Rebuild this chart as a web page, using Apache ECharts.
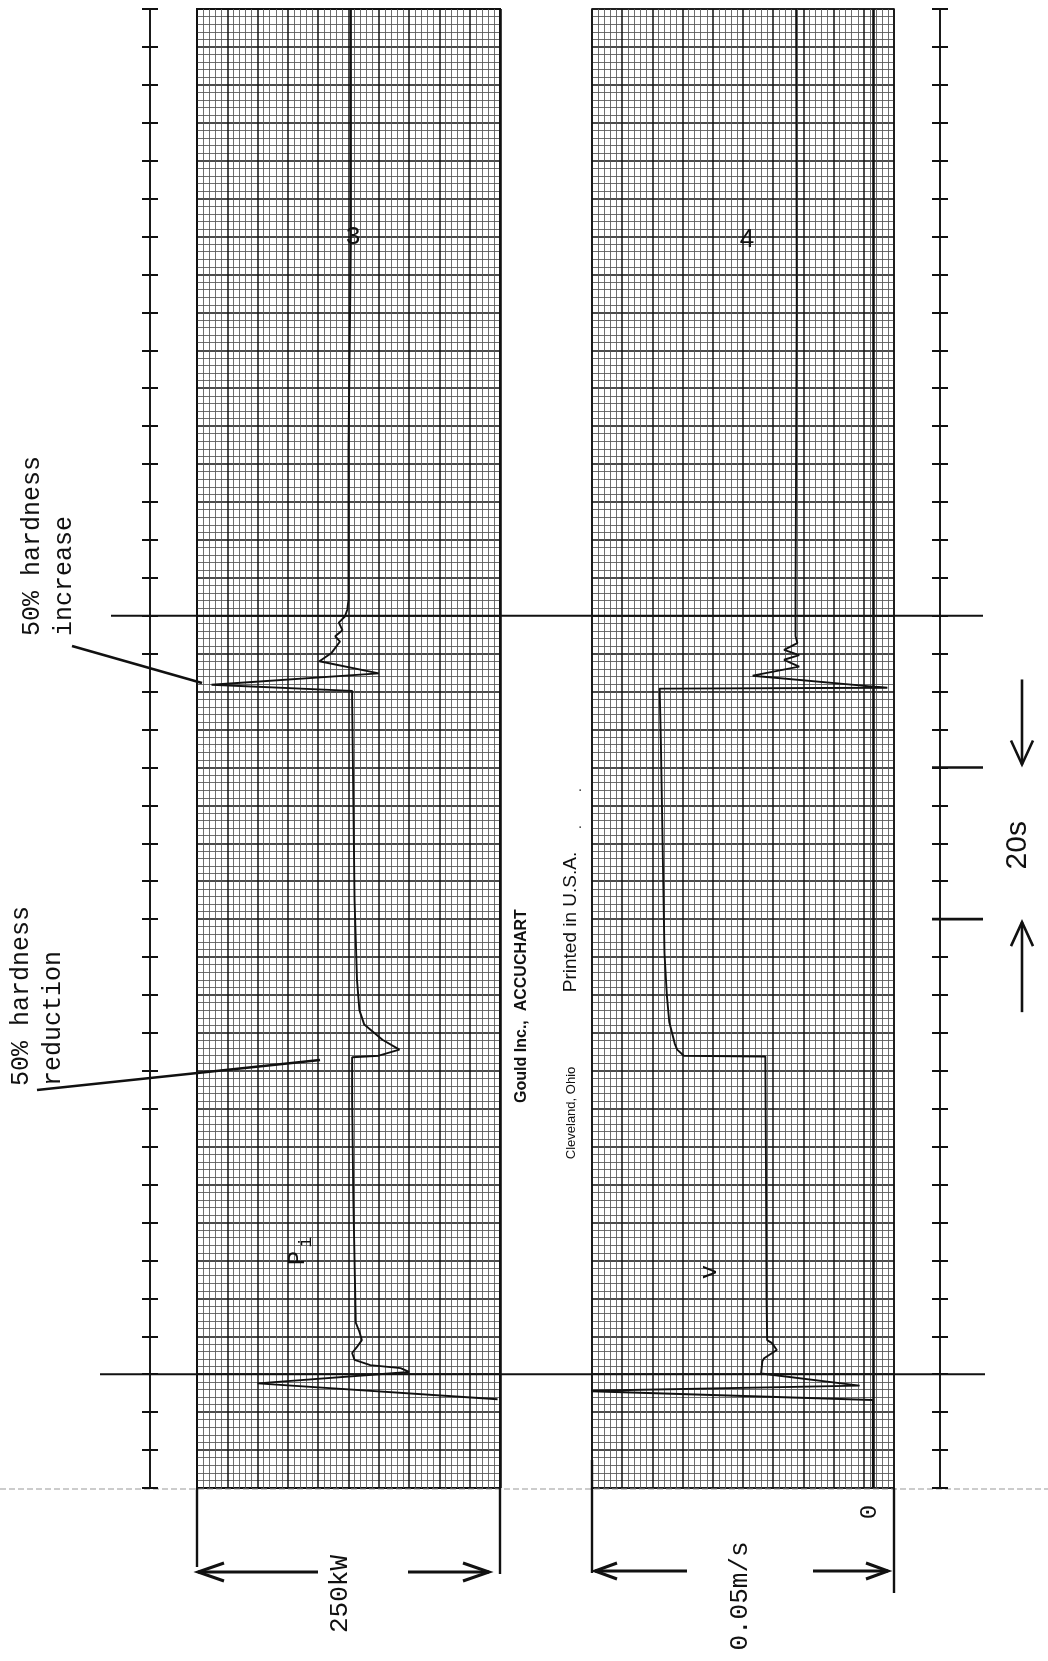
<!DOCTYPE html>
<html><head><meta charset="utf-8">
<script src="https://cdn.jsdelivr.net/npm/echarts/dist/echarts.min.js"></script>
<style>html,body{margin:0;padding:0;background:#fff}#c{width:1048px;height:1661px}</style>
</head><body><div id="c"></div>
<script>
// ---- data (time in s, increasing upward) ----
const pTime  = [11.7, 13.8, 15.3, 15.8, 16.2, 16.9, 17.8, 18.6, 19.5, 20.6, 21.8, 38.0, 51.2, 56.8, 57.0, 57.8, 59.1, 61.1, 63.0, 67.0, 77.5, 90.7, 103.9, 105.1, 105.9, 107.4, 109.0, 110.1, 111.6, 112.3, 113.1, 114.1, 114.9, 115.8, 117.1, 136.9, 165.0, 195.0];
const pPower = [2, 200, 75, 82, 107, 120, 122, 118, 114, 116, 119, 121, 122, 122, 100, 83, 97, 112, 116, 118, 120, 121, 122, 122, 238, 100, 149, 139, 132, 136, 130, 133, 128, 126, 125, 125, 123, 123];
const vTime  = [0, 11.6, 12.8, 13.5, 15.1, 16.7, 17.1, 18.2, 19.1, 19.5, 24.8, 43.3, 56.9, 57.0, 57.8, 58.6, 61.4, 64.9, 70.5, 84.4, 98.4, 105.4, 105.5, 107.1, 108.3, 109.2, 109.8, 110.5, 111.4, 112.3, 117.1, 156.7, 195.0];
const vVel   = [0, 0, 0.0484, 0.0022, 0.0185, 0.0183, 0.0180, 0.0159, 0.0167, 0.0175, 0.0176, 0.0177, 0.0178, 0.0313, 0.0324, 0.0328, 0.0337, 0.0341, 0.0345, 0.0348, 0.0351, 0.0353, -0.0024, 0.0199, 0.0122, 0.0147, 0.0122, 0.0147, 0.0125, 0.0128, 0.0128, 0.0126, 0.0127];
const markerTimes = [15, 115];      // event marker lines
const scaleMarkTimes = [75, 95];    // 20 s scale marks
const timeRange = [0, 195];
const pRange = [0, 250];            // kW, full strip width
const vRange = [-0.0035, 0.0465];   // m/s, full strip width (0.05)
const texts = {
  inc1: '50% hardness', inc2: 'increase',
  red1: '50% hardness', red2: 'reduction',
  pScale: '250kW', vScale: '0.05m/s', zero: '0', sec: '20s',
  gould: 'Gould Inc.,  ACCUCHART', city: 'Cleveland, Ohio', printed: 'Printed in U.S.A.',
  ch3: '3', ch4: '4', p: 'P', pSub: 'i', v: 'v'
};

const MAJ = '#111111', MIN = '#555555', INK = '#111';
const mono = f => f + 'px "Liberation Mono", "DejaVu Sans Mono", monospace';
const sans = (f, b) => (b ? 'bold ' : '') + f + 'px "Liberation Sans", Arial, sans-serif';

function paperX(g) {
  return { type: 'value', gridIndex: g, min: 0, max: 10, interval: 1, position: 'bottom',
    axisLine: { show: false }, axisTick: { show: false }, axisLabel: { show: false },
    splitLine: { show: true, lineStyle: { color: MAJ, width: 1.5 } },
    minorTick: { show: false, splitNumber: 5 },
    minorSplitLine: { show: true, lineStyle: { color: MIN, width: 0.85 } } };
}
function dataX(g, r) {
  return { type: 'value', gridIndex: g, min: r[0], max: r[1], inverse: true, position: 'top', show: false };
}
function timeY(g) {
  return { type: 'value', gridIndex: g, min: timeRange[0], max: timeRange[1], interval: 5, position: 'left',
    axisLine: { show: false }, axisTick: { show: false }, axisLabel: { show: false },
    splitLine: { show: true, lineStyle: { color: MAJ, width: 1.5 } },
    minorTick: { show: false, splitNumber: 5 },
    minorSplitLine: { show: true, lineStyle: { color: MIN, width: 0.85 } } };
}
function rulerY(g, pos, offset, inside) {
  return { type: 'value', gridIndex: g, min: timeRange[0], max: timeRange[1], interval: 5, position: pos, offset: offset,
    axisLine: { show: true, onZero: false, lineStyle: { color: INK, width: 1.6 } },
    axisTick: { show: true, inside: inside, length: 8, lineStyle: { color: INK, width: 2 } },
    axisLabel: { show: false }, splitLine: { show: false } };
}

const option = {
  backgroundColor: '#ffffff',
  animation: false,
  grid: [
    { left: 197, width: 303, top: 9, bottom: 173, show: true, borderColor: INK, borderWidth: 2, backgroundColor: '#fff', outerBoundsMode: 'none' },
    { left: 592, width: 302, top: 9, bottom: 173, show: true, borderColor: INK, borderWidth: 1.6, backgroundColor: '#fff', outerBoundsMode: 'none' }
  ],
  xAxis: [paperX(0), dataX(0, pRange), paperX(1), dataX(1, vRange)],
  yAxis: [timeY(0), rulerY(0, 'left', 47, false), rulerY(0, 'left', 47, true),
          timeY(1), rulerY(1, 'right', 46, false), rulerY(1, 'right', 46, true)],
  series: [
    { name: 'Pi', type: 'line', xAxisIndex: 1, yAxisIndex: 0, clip: false, symbol: 'none',
      data: pTime.map((t, i) => [pPower[i], t]),
      lineStyle: { color: INK, width: 1.9 },
      markLine: { silent: true, symbol: 'none', label: { show: false },
        lineStyle: { color: INK, width: 2.6, type: 'solid' }, data: [{ xAxis: 0 }] } },
    { name: 'v', type: 'line', xAxisIndex: 3, yAxisIndex: 3, clip: false, symbol: 'none',
      data: vTime.map((t, i) => [vVel[i], t]),
      lineStyle: { color: INK, width: 1.9 },
      markLine: { silent: true, symbol: 'none', label: { show: false },
        lineStyle: { color: INK, width: 2.6, type: 'solid' }, data: [{ xAxis: 0 }] } }
  ]
};

const chart = echarts.init(document.getElementById('c'), null, { renderer: 'canvas' });
chart.setOption(option);

// ---- annotations placed through the axes' own scales ----
const pp = (P, t) => chart.convertToPixel({ xAxisIndex: 1, yAxisIndex: 0 }, [P, t]);
const vp = (v, t) => chart.convertToPixel({ xAxisIndex: 3, yAxisIndex: 3 }, [v, t]);
const yT = t => pp(0, t)[1];
const pL = pp(pRange[1], 0)[0], pR = pp(pRange[0], 0)[0];
const vL = vp(vRange[1], 0)[0], vR = vp(vRange[0], 0)[0], v0 = vp(0, 0)[0];
const yBot = yT(0);

function line(x1, y1, x2, y2, w, c, dash) {
  return { type: 'line', silent: true, shape: { x1, y1, x2, y2 },
    style: { stroke: c || INK, lineWidth: w || 2, lineDash: dash || null } };
}
function poly(points, w) {
  return { type: 'polyline', silent: true, shape: { points }, style: { stroke: INK, lineWidth: w || 2.5, fill: null } };
}
function arrow(x1, y1, x2, y2, len, half, w) {
  const dx = x2 - x1, dy = y2 - y1, L = Math.hypot(dx, dy), ux = dx / L, uy = dy / L;
  const bx = x2 - ux * len, by = y2 - uy * len, px = -uy * half, py = ux * half;
  return [line(x1, y1, x2, y2, w), poly([[bx + px, by + py], [x2, y2], [bx - px, by - py]], w)];
}
function txt(s, x, y, font, align, rot) {
  return { type: 'text', silent: true, x, y, rotation: rot === undefined ? Math.PI / 2 : rot,
    style: { text: s, font, fill: INK, align: align || 'center', verticalAlign: 'middle' } };
}

const rulerR = vR + 46;
let g = [];
// paper bottom edge
g.push(line(0, yBot + 1, 1048, yBot + 1, 1, '#999', [6, 3]));
// event marker lines
g.push(line(100, yT(markerTimes[0]), 985, yT(markerTimes[0]), 2));
g.push(line(111, yT(markerTimes[1]), 983, yT(markerTimes[1]), 2));
// 20 s scale marks on the right ruler
scaleMarkTimes.forEach(t => g.push(line(rulerR - 8, yT(t), rulerR + 43, yT(t), 2.6)));
const y75 = yT(scaleMarkTimes[0]), y95 = yT(scaleMarkTimes[1]);
g = g.concat(arrow(1022, y95 - 88, 1022, y95 - 3, 24, 11, 2.6));
g = g.concat(arrow(1022, y75 + 93, 1022, y75 + 3, 24, 11, 2.6));
g.push(txt(texts.sec, 1018, (y75 + y95) / 2 + 2, sans(30)));
// bottom scale bars
g.push(line(pL, yBot, pL, yBot + 79, 2.4));
g.push(line(pR, yBot, pR, yBot + 86, 2.4));
g = g.concat(arrow(pL + 121, yBot + 84, pL + 1, yBot + 84, 26, 9, 3));
g = g.concat(arrow(pR - 92, yBot + 84, pR - 11, yBot + 84, 26, 9, 3));
g.push(txt(texts.pScale, pL + 143, yBot + 106, mono(26)));
g.push(line(vL, yBot - 28, vL, yBot + 85, 2.4));
g.push(line(vR, yBot, vR, yBot + 105, 2.4));
g = g.concat(arrow(vL + 95, yBot + 83, vL + 3, yBot + 83, 22, 8, 3));
g = g.concat(arrow(vR - 81, yBot + 83, vR - 6, yBot + 83, 22, 8, 3));
g.push(txt(texts.vScale, vL + 148, yBot + 108, mono(26)));
g.push(txt(texts.zero, v0 - 3, yBot + 24, mono(24)));
// hand-written notes
g.push(txt(texts.inc1, 32, 636, mono(25), 'left'));
g.push(txt(texts.inc2, 64, 636, mono(25), 'left'));
g.push(line(72, 646, 202, 683, 2.6));
g.push(txt(texts.red1, 21, 1086, mono(25), 'left'));
g.push(txt(texts.red2, 53, 1086, mono(25), 'left'));
g.push(line(37, 1090, 320, 1060, 2.6));
// printed paper text
g.push(txt(texts.gould, 522, 1006, sans(16, true)));
g.push(txt(texts.city, 571, 1113, sans(13)));
g.push(txt(texts.printed, 571, 922, sans(19)));
g.push(txt('.', 577, 827, sans(14)));
g.push(txt('.', 577, 790, sans(14)));
// channel labels
g.push(txt(texts.ch3, 353, 237, mono(26), 'center', 0));
g.push(txt(texts.ch4, 747, 240, sans(26), 'center', 0));
g.push(txt(texts.p, 298, 1258, mono(24)));
g.push(txt(texts.pSub, 306, 1242, mono(18)));
g.push(txt(texts.v, 710, 1272, mono(24)));

chart.setOption({ graphic: { elements: g } });
</script>
</body></html>
